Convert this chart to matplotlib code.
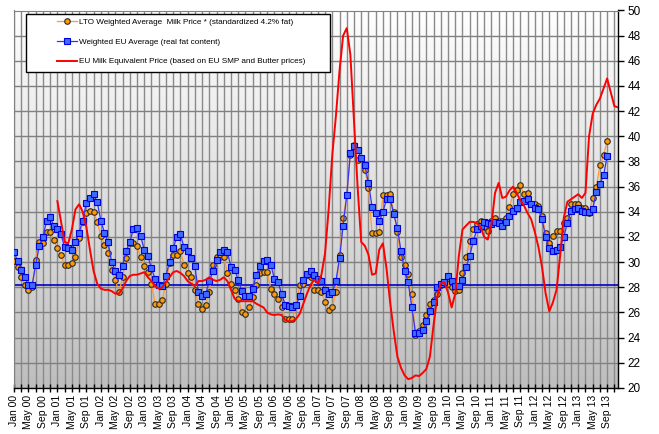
import matplotlib
matplotlib.use("Agg")
import matplotlib.pyplot as plt
import numpy as np
from matplotlib.colors import LinearSegmentedColormap
from matplotlib.patches import Rectangle

plt.rcParams['font.family'] = ['Liberation Sans', 'DejaVu Sans']

# ---- data (monthly, Jan 2000 = index 0) ----
lto_price = [
    30.1, 29.6, 28.8, 28.15, 27.8, 28.0, 30.2, 31.6, 31.5, 32.4,
    32.4, 31.75, 31.1, 30.55, 29.75, 29.75, 29.9, 30.4, 31.9, 33.2,
    33.9, 34.1, 34.0, 33.2, 32.1, 31.4, 30.7, 29.4, 28.6, 27.6,
    28.8, 30.3, 31.5, 31.5, 31.3, 30.4, 29.7, 29.2, 28.3, 26.7,
    26.7, 27.0, 28.3, 29.9, 30.6, 30.6, 30.9, 29.8, 29.15, 28.8,
    27.8, 26.7, 26.3, 26.6, 27.65, 29.8, 30.4, 30.4, 30.4, 29.15,
    28.3, 27.8, 27.1, 26.0, 25.85, 26.4, 27.2, 28.2, 29.15, 29.2,
    29.2, 27.9, 27.5, 27.1, 26.45, 25.5, 25.5, 25.5, 26.6, 28.2,
    28.3, 29.0, 28.8, 27.8, 27.8, 27.65, 26.8, 26.2, 26.4, 27.65,
    30.55, 33.5, 35.3, 38.5, 39.3, 38.1, 38.3, 37.3, 35.9, 32.3,
    32.3, 32.4, 35.3, 35.3, 35.4, 34.0, 32.4, 30.4, 29.8, 29.05,
    27.5, 24.2, 24.5, 25.0, 25.8, 26.7, 27.0, 27.5, 28.2, 28.4,
    28.3, 28.0, 27.7, 27.8, 29.1, 30.4, 31.7, 32.6, 33.0, 33.3,
    32.8, 32.5, 33.3, 33.5, 33.3, 33.3, 33.5, 34.4, 35.4, 35.7,
    36.1, 35.4, 35.5, 34.65, 34.6, 34.5, 33.7, 32.3, 31.5, 32.1,
    32.5, 32.5, 33.15, 33.5, 34.6, 34.6, 34.6, 34.3, 34.3, 33.9,
    35.1, 36.0, 37.7, 38.5, 39.6]

eu_price = [
    30.8, 30.1, 29.4, 28.8, 28.15, 28.15, 29.8, 31.3, 32.0, 33.3,
    33.6, 32.9, 32.6, 32.2, 31.2, 31.1, 31.0, 31.6, 32.35, 33.3,
    34.7, 35.1, 35.4, 34.8, 33.3, 32.35, 31.6, 30.0, 29.3, 29.0,
    29.7, 30.9, 31.6, 32.6, 32.7, 32.1, 31.0, 30.5, 29.5, 28.7,
    28.2, 28.1, 28.9, 30.05, 31.1, 32.0, 32.2, 31.2, 30.9, 30.3,
    29.7, 27.6, 27.3, 27.5, 28.5, 29.3, 30.2, 30.8, 31.0, 30.8,
    29.6, 29.4, 28.6, 27.7, 27.3, 27.35, 27.9, 29.0, 29.7, 30.1,
    30.2, 29.8, 28.7, 28.4, 27.5, 26.6, 26.5, 26.4, 26.6, 27.3,
    28.6, 29.05, 29.3, 29.0, 28.7, 28.5, 27.8, 27.5, 27.65, 28.5,
    30.3, 32.9, 35.3, 38.7, 39.2, 38.9, 38.3, 37.7, 36.3, 34.4,
    33.9, 33.25, 34.0, 35.0, 35.05, 33.8, 32.7, 30.9, 29.3, 28.4,
    26.4, 24.4, 24.4, 24.6, 25.3, 26.1, 26.8, 28.0, 28.3, 28.4,
    28.9, 28.5, 28.1, 28.1, 28.6, 29.6, 30.5, 31.7, 32.6, 32.9,
    33.2, 33.1, 33.0, 33.2, 33.15, 32.9, 33.2, 33.7, 34.1, 34.3,
    34.8, 34.9, 35.05, 34.6, 34.3, 34.2, 33.4, 32.0, 31.1, 30.9,
    30.95, 31.2, 32.0, 33.1, 34.1, 34.2, 34.3, 34.05, 34.0, 34.0,
    34.2, 35.6, 36.2, 36.9, 38.4]

# EU milk equivalent price starts Jan 2001 (index 12) and runs to Dec 2013
equiv_start = 12
equiv_price = [
    34.85, 33.2, 31.6, 31.5, 32.6, 34.2, 34.6, 34.0, 32.8, 31.0,
    29.3, 28.3, 27.9, 27.8, 27.8, 27.7, 27.5, 27.5, 27.9, 28.5,
    28.9, 29.0, 29.0, 29.1, 29.2, 28.8, 28.5, 28.1, 27.9, 28.0,
    28.4, 28.8, 29.2, 29.3, 29.15, 28.9, 28.5, 28.3, 28.1, 28.5,
    28.5, 28.6, 28.8, 28.6, 28.5, 28.6, 28.8, 28.5, 27.8, 27.1,
    26.9, 26.9, 26.9, 26.9, 26.9, 26.7, 26.55, 26.4, 26.0, 25.85,
    25.8, 25.85, 25.8, 25.4, 25.3, 25.3, 25.5, 25.9, 26.7, 27.5,
    28.2, 28.6, 28.3, 29.0, 30.7, 34.2, 38.5, 41.6, 45.2, 48.0,
    48.6, 46.5, 41.3, 36.0, 31.6, 31.3, 30.6, 29.0, 29.1, 31.0,
    31.5, 29.5, 26.8, 24.5, 22.5, 21.6, 21.0, 20.7, 20.8, 21.0,
    20.95, 21.2, 21.5, 22.5, 25.0, 27.2, 28.3, 28.4, 27.6, 26.4,
    27.5, 30.5, 32.6, 32.9, 33.2, 33.2, 33.1, 32.8, 32.0, 31.8,
    33.0, 35.5, 36.3, 35.1, 35.2, 35.7, 36.0, 35.5, 34.9, 34.5,
    33.9, 33.4, 32.4, 31.2, 29.6, 27.5, 26.1, 26.8, 27.8, 30.5,
    33.5, 34.8, 35.0, 35.2, 35.4, 35.1, 35.5, 40.0, 41.8, 42.5,
    43.0, 43.8, 44.6, 43.5, 42.4, 42.3]

ref_level = 28.2

tick_labels = [
    'Jan 00', 'May 00', 'Sep 00', 'Jan 01', 'May 01', 'Sep 01',
    'Jan 02', 'May 02', 'Sep 02', 'Jan 03', 'May 03', 'Sep 03',
    'Jan 04', 'May 04', 'Sep 04', 'Jan 05', 'May 05', 'Sep 05',
    'Jan 06', 'May 06', 'Sep 06', 'Jan 07', 'May 07', 'Sep 07',
    'Jan 08', 'May 08', 'Sep 08', 'Jan 09', 'May 09', 'Sep 09',
    'Jan 10', 'May 10', 'Sep 10', 'Jan 11', 'May 11', 'Sep 11',
    'Jan 12', 'May 12', 'Sep 12', 'Jan 13', 'May 13', 'Sep 13']
n_months = 168

labels = ['LTO Weighted Average  Milk Price * (standardized 4.2% fat)',
          'Weighted EU Average (real fat content)',
          'EU Milk Equivalent Price (based on EU SMP and Butter prices)']

# ---- figure ----
W, H = 659, 434
fig = plt.figure(figsize=(W / 100, H / 100), dpi=100)
L, R, T, B = 14, 618, 10.5, 388
ax = fig.add_axes([L / W, 1 - B / H, (R - L) / W, (B - T) / H])

x_max = n_months - 1
ax.set_xlim(0, x_max)
ax.set_ylim(20, 50)

grad = LinearSegmentedColormap.from_list('g', ['#bebebe', '#ffffff'])
ax.imshow(np.linspace(0, 1, 256).reshape(-1, 1), cmap=grad, origin='lower',
          extent=[0, x_max, 20, 50], aspect='auto', zorder=0)

ax.set_xticks(np.arange(0, n_months - 3, 4))
ax.set_xticklabels(tick_labels, rotation=90, fontsize=7.5)
ax.set_xticks(np.arange(0, n_months, 2), minor=True)
ax.set_yticks(np.arange(20, 51, 2))
ax.yaxis.tick_right()
ax.tick_params(axis='y', which='both', direction='out', length=4, width=1,
               labelsize=8.5, pad=3, left=False, right=True)
ax.tick_params(axis='x', which='both', direction='inout', length=6, width=1,
               pad=2)
ax.grid(True, which='both', axis='x', color='#8a8a8a', lw=1, zorder=1)
ax.grid(True, which='major', axis='y', color='#808080', lw=1, zorder=1)
ax.set_axisbelow(True)
for s in ['left', 'top']:
    ax.spines[s].set_color('#808080')
for s in ['right', 'bottom']:
    ax.spines[s].set_color('black')
    ax.spines[s].set_linewidth(1)

ax.axhline(ref_level, color='#0000cc', lw=1.2, zorder=2)

m_lto = np.arange(len(lto_price))
m_eu = np.arange(len(eu_price))
m_eq = np.arange(equiv_start, equiv_start + len(equiv_price))

l1, = ax.plot(m_lto, lto_price, color='#ff9933', lw=0.9, marker='o', ms=4,
              mfc='#ff9900', mec='#2a2a2a', mew=0.8, zorder=3, label=labels[0])
l2, = ax.plot(m_eu, eu_price, color='#3333ff', lw=0.9, marker='s', ms=4.3,
              mfc='#3d6bff', mec='#0000dd', mew=0.8, zorder=4, label=labels[1])
l3, = ax.plot(m_eq, equiv_price, color='#ff0000', lw=1.4, zorder=5,
              label=labels[2])

# legend box
box = Rectangle((25.5 / W, 1 - 72 / H), (330 - 25.5) / W, (72 - 14) / H,
                transform=fig.transFigure, facecolor='white', edgecolor='black',
                lw=1, zorder=6, clip_on=False)
ax.add_patch(box)
leg = ax.legend(handles=[l1, l2, l3], loc='upper left',
                bbox_to_anchor=(57 / W, 1 - 18.5 / H),
                bbox_transform=fig.transFigure, frameon=False, fontsize=5.9,
                borderpad=0, handlelength=2.4, handletextpad=0.3,
                labelspacing=1.45, borderaxespad=0, numpoints=1)
leg.set_zorder(7)

fig.savefig('out.png', dpi=100)
